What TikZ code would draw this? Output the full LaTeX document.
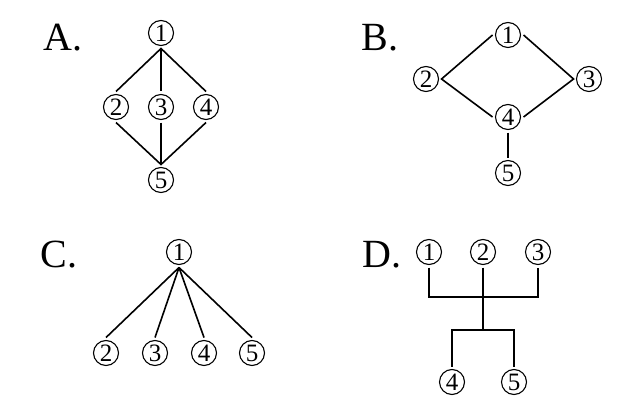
\documentclass[tikz,border=0pt]{standalone}
\usepackage{fontspec}
\setmainfont{Liberation Serif}
\usepackage{tikz}
\usetikzlibrary{positioning}

\begin{document}
\begin{tikzpicture}[scale=0.1757]
\tikzstyle{every node}+=[inner sep=0pt]
\tikzstyle{num}=[draw, circle, line width=0.55pt, minimum size=12.5pt, outer sep=1.5pt, font=\fontsize{12.5}{12.5}\selectfont]
\tikzstyle{tag}=[font=\fontsize{20}{20}\selectfont]
\tikzstyle{link}=[line width=0.8pt]
\useasboundingbox (0,0) rectangle (63.8,-41.6);
% A
\node [tag] (ta) at (6.3,-3.8) {A.};
\node [num] (a1) at (16.1,-3.3) {1};
\node [num] (a2) at (11.6,-10.7) {2};
\node [num] (a3) at (16.1,-10.7) {3};
\node [num] (a4) at (20.6,-10.7) {4};
\node [num] (a5) at (16.1,-18.0) {5};
\draw [link] (a2.north) -- (a1.south) -- (a4.north);
\draw [link] (a1.south) -- (a3.north);
\draw [link] (a2.south) -- (a5.north) -- (a4.south);
\draw [link] (a3.south) -- (a5.north);
% B
\node [tag] (tb) at (38.0,-3.8) {B.};
\node [num] (b1) at (50.8,-3.5) {1};
\node [num] (b2) at (42.6,-7.9) {2};
\node [num] (b3) at (58.9,-7.9) {3};
\node [num] (b4) at (50.8,-11.7) {4};
\node [num] (b5) at (50.8,-17.3) {5};
\draw [link] (b1.west) -- (b2.east) -- (b4.west);
\draw [link] (b1.east) -- (b3.west) -- (b4.east);
\draw [link] (b4.south) -- (b5.north);
% C
\node [tag] (tc) at (5.9,-25.5) {C.};
\node [num] (c1) at (17.9,-25.2) {1};
\node [num] (c2) at (10.6,-35.3) {2};
\node [num] (c3) at (15.5,-35.3) {3};
\node [num] (c4) at (20.4,-35.3) {4};
\node [num] (c5) at (25.2,-35.3) {5};
\draw [link] (c1.south) -- (c2.north);
\draw [link] (c1.south) -- (c3.north);
\draw [link] (c1.south) -- (c4.north);
\draw [link] (c1.south) -- (c5.north);
% D
\node [tag] (td) at (38.2,-25.5) {D.};
\node [num] (d1) at (42.9,-25.2) {1};
\node [num] (d2) at (48.3,-25.2) {2};
\node [num] (d3) at (53.8,-25.2) {3};
\node [num] (d4) at (45.2,-38.2) {4};
\node [num] (d5) at (51.4,-38.2) {5};
\coordinate (dj) at (48.3,-29.7);
\coordinate (dk) at (48.3,-33.0);
\draw [link] (d1.south) |- (dj) -| (d3.south);
\draw [link] (d2.south) -- (dk);
\draw [link] (d4.north) |- (dk) -| (d5.north);
\end{tikzpicture}
\end{document}
